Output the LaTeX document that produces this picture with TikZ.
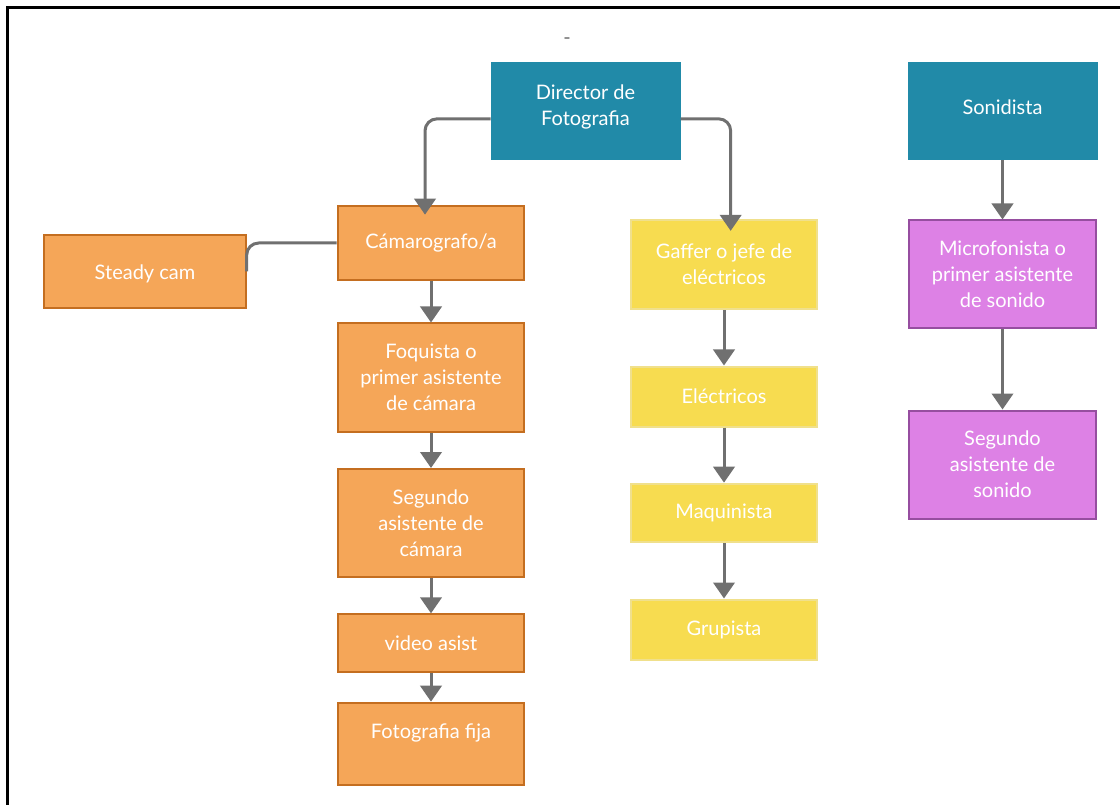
\documentclass[tikz,border=0pt]{standalone}
\usepackage{fontspec}
\setmainfont{Lato}
\usetikzlibrary{arrows.meta}
\definecolor{dirteal}{RGB}{33,138,168}
\definecolor{camorange}{RGB}{245,166,88}
\definecolor{camedge}{RGB}{196,110,32}
\definecolor{gafyellow}{RGB}{247,220,80}
\definecolor{gafedge}{RGB}{240,224,140}
\definecolor{micpurple}{RGB}{221,129,229}
\definecolor{micedge}{RGB}{150,78,160}
\definecolor{linkgray}{RGB}{112,112,112}

\tikzset{
  boxfont/.style={font=\fontsize{15}{19.5}\selectfont},
  box/.style={draw, line width=1.5pt, text=white, align=center, inner sep=0pt, boxfont},
  tealbox/.style={box, fill=dirteal, draw=dirteal, minimum width=141pt, minimum height=72pt},
  tealtext/.style={text=white, align=center, inner sep=0pt, boxfont, yshift=3.5pt},
  orangebox/.style={box, fill=camorange, draw=camedge, minimum width=140pt},
  yellowbox/.style={box, fill=gafyellow, draw=gafedge, minimum width=140pt},
  purplebox/.style={box, fill=micpurple, draw=micedge, minimum width=140pt, minimum height=81pt},
  link/.style={draw=linkgray, line width=2.25pt, rounded corners=9pt},
  arrowlink/.style={link, -{Triangle[width=16pt,length=12pt]}},
}

\begin{document}
\begin{tikzpicture}[x=0.75pt,y=0.75pt,yscale=-1,xscale=1]
\useasboundingbox (0,0) rectangle (1120,805);

%Frame
\draw [line width=2.25pt] (7.5,805) -- (7.5,7.5) -- (1120,7.5) ;
% Text Node
\node [text=linkgray, boxfont, inner sep=0pt] (mark) at (567,41) {-};

%Heads
\node [tealbox, label={[tealtext]center:Director de\\Fotografia}] (dir) at (585.5,111.5) {};
\node [tealbox, label={[tealtext]center:Sonidista}] (son) at (1002.5,111.5) {};

%Camera column
\node [orangebox, minimum height=55pt] (cam) at (431,243) {Cámarografo/a};
\node [orangebox, minimum width=151pt, minimum height=55pt] (ste) at (145,271.5) {\raisebox{-2pt}[\height][\depth]{Steady cam}};
\node [orangebox, minimum height=81pt] (foq) at (431,377.5) {Foquista o\\primer asistente\\de cámara};
\node [orangebox, minimum height=81pt] (seg) at (431,523) {Segundo\\asistente de\\cámara};
\node [orangebox, minimum height=43pt] (vid) at (431,643) {video asist};
\node [orangebox, minimum height=62pt] (fot) at (431,744) {\raisebox{8pt}[\height][\depth]{Fotografia fija}};

%Light column
\node [yellowbox, minimum height=67pt] (gaf) at (724,264.5) {Gaffer o jefe de\\eléctricos};
\node [yellowbox, minimum height=45pt] (ele) at (724,396.5) {Eléctricos};
\node [yellowbox, minimum height=44pt] (maq) at (724,513) {Maquinista};
\node [yellowbox, minimum height=45pt] (gru) at (724,629.5) {Grupista};

%Sound column
\node [purplebox] (mic) at (1002.5,274.5) {Microfonista o\\primer asistente\\de sonido};
\node [purplebox] (sds) at (1002.5,464.5) {Segundo\\asistente de\\sonido};

%Connectors
\draw [arrowlink] ([yshift=5.5pt]dir.west) -| ([xshift=-4.5pt,yshift=7pt]cam.north) ;
\draw [arrowlink] ([yshift=5.5pt]dir.east) -| ([xshift=5pt,yshift=9pt]gaf.north) ;
\draw [link] (cam.west) -| (ste.east) ;
\draw [arrowlink] (cam.south) -- (foq.north) ;
\draw [arrowlink] (foq.south) -- (seg.north) ;
\draw [arrowlink] (seg.south) -- (vid.north) ;
\draw [arrowlink] (vid.south) -- (fot.north) ;
\draw [arrowlink] (gaf.south) -- (ele.north) ;
\draw [arrowlink] (ele.south) -- (maq.north) ;
\draw [arrowlink] (maq.south) -- (gru.north) ;
\draw [arrowlink] (son.south) -- (mic.north) ;
\draw [arrowlink] (mic.south) -- (sds.north) ;

\end{tikzpicture}
\end{document}
